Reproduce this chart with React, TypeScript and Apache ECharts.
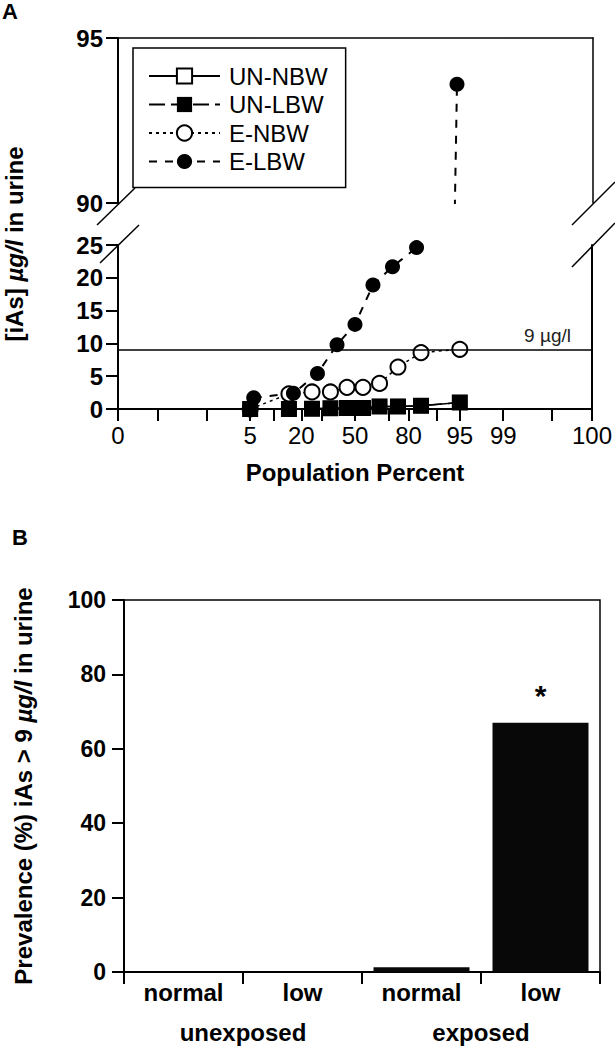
import React, { useEffect, useRef } from "react";
import * as echarts from "echarts";

// ---- data (population percent = plotting position, value = [iAs] µg/l) ----
const eLbwPercent = [5.6, 16.7, 27.8, 38.9, 50, 61.1, 72.2, 83.3, 94.4];
const eLbwValues = [1.7, 2.4, 5.4, 9.8, 12.9, 18.9, 21.7, 24.6, 93.6];
const eNbwPercent = [5, 15, 25, 35, 45, 55, 65, 75, 85, 95];
const eNbwValues = [0, 2.3, 2.6, 2.6, 3.3, 3.3, 3.9, 6.4, 8.6, 9.1];
const unPercent = [5, 15, 25, 35, 45, 55, 65, 75, 85, 95];
const unLbwValues = [0, 0, 0.05, 0.1, 0.15, 0.15, 0.4, 0.4, 0.5, 1.0];
const unNbwValues = [0, 0, 0.05, 0.1, 0.15, 0.15, 0.4, 0.4, 0.5, 1.0];
const threshold = 9;

const xTickPercents = [0.01, 0.1, 1, 5, 10, 20, 30, 50, 70, 80, 90, 95, 99, 99.9, 99.99];
const xLabelPercents = [0.01, 5, 20, 50, 80, 95, 99, 99.99];
const xLabelTexts = ["0", "5", "20", "50", "80", "95", "99", "100"];

// ---- panel B ----
const barCategories = ["normal", "low", "normal", "low"];
const groupCategories = ["unexposed", "exposed"];
const prevalence = [0, 0, 1.3, 67];
const significant = [false, false, false, true];

const FONT = "'Liberation Sans', Arial, Helvetica, sans-serif";

// inverse normal CDF (probability-scale axis transform)
function probit(p: number): number {
  const a = [-39.69683028665376, 220.9460984245205, -275.9285104469687, 138.357751867269, -30.66479806614716, 2.506628277459239];
  const b = [-54.47609879822406, 161.5858368580409, -155.6989798598866, 66.80131188771972, -13.28068155288572];
  const c = [-0.007784894002430293, -0.3223964580411365, -2.400758277161838, -2.549732539343734, 4.374664141464968, 2.938163982698783];
  const d = [0.007784695709041462, 0.3224671290700398, 2.445134137142996, 3.754408661907416];
  const pl = 0.02425;
  if (p < pl) {
    const q = Math.sqrt(-2 * Math.log(p));
    return (((((c[0] * q + c[1]) * q + c[2]) * q + c[3]) * q + c[4]) * q + c[5]) / ((((d[0] * q + d[1]) * q + d[2]) * q + d[3]) * q + 1);
  }
  if (p <= 1 - pl) {
    const q = p - 0.5;
    const r = q * q;
    return ((((((a[0] * r + a[1]) * r + a[2]) * r + a[3]) * r + a[4]) * r + a[5]) * q) / (((((b[0] * r + b[1]) * r + b[2]) * r + b[3]) * r + b[4]) * r + 1);
  }
  const q = Math.sqrt(-2 * Math.log(1 - p));
  return -(((((c[0] * q + c[1]) * q + c[2]) * q + c[3]) * q + c[4]) * q + c[5]) / ((((d[0] * q + d[1]) * q + d[2]) * q + d[3]) * q + 1);
}
const z = (percent: number) => probit(percent / 100);

const pts = (pc: number[], vals: number[]) => pc.map((p, i) => [z(p), vals[i]]);

export default function App() {
  const ref = useRef<HTMLDivElement>(null);
  useEffect(() => {
    if (!ref.current) return;
    const chart = echarts.init(ref.current, undefined, { renderer: "svg" });

    // layout
    const AL = 118, AR = 593, UT = 38, UB = 203, LT = 245, LB = 409;
    const BL = 124, BR = 600, BT = 600, BB = 972;
    const xMin = z(xTickPercents[0]);
    const xMax = z(xTickPercents[xTickPercents.length - 1]);

    const lineOnly = (gridIndex: number, position: string, min: number, max: number, w = 1.5) => ({
      type: "value",
      gridIndex,
      position,
      min,
      max,
      axisLine: { show: true, onZero: false, lineStyle: { color: "#000", width: w } },
      axisTick: { show: false },
      axisLabel: { show: false },
      splitLine: { show: false },
    });

    const seriesStyle: Record<string, any> = {
      "UN-NBW": { symbol: "emptyRect", symbolSize: 14, lineStyle: { color: "#000", width: 1.5, type: "solid" }, itemStyle: { color: "#000", borderWidth: 1.2 } },
      "UN-LBW": { symbol: "rect", symbolSize: 15, lineStyle: { color: "#000", width: 1.5, type: [16, 6] }, itemStyle: { color: "#000" } },
      "E-NBW": { symbol: "emptyCircle", symbolSize: 15, lineStyle: { color: "#000", width: 1.5, type: [3, 4] }, itemStyle: { color: "#000", borderWidth: 1.2 } },
      "E-LBW": { symbol: "circle", symbolSize: 15, lineStyle: { color: "#000", width: 2, type: [8, 8] }, itemStyle: { color: "#000" } },
    };
    const mk = (name: string, data: number[][], xi: number, yi: number, extra: any = {}) => ({
      type: "line",
      name,
      data,
      xAxisIndex: xi,
      yAxisIndex: yi,
      clip: true,
      silent: true,
      ...seriesStyle[name],
      ...extra,
    });

    const boldRich = {
      b: { fontSize: 24, fontWeight: "bold", fill: "#000", fontFamily: FONT },
      i: { fontSize: 24, fontWeight: "bold", fontStyle: "italic", fill: "#000", fontFamily: FONT },
      p: { fontSize: 22, fontWeight: "bold", fill: "#000", fontFamily: FONT },
    };

    const option: any = {
      animation: false,
      backgroundColor: "#fff",
      textStyle: { fontFamily: FONT, color: "#000" },
      grid: [
        { left: AL, top: UT, width: AR - AL, height: UB - UT },
        { left: AL, top: LT, width: AR - AL, height: LB - LT },
        { left: BL, top: BT, width: BR - BL, height: BB - BT, show: true, borderColor: "#000", borderWidth: 1.5 },
      ],
      legend: {
        data: ["UN-NBW", "UN-LBW", "E-NBW", "E-LBW"],
        orient: "vertical",
        left: 133,
        top: 48,
        selectedMode: false,
        backgroundColor: "#fff",
        borderColor: "#000",
        borderWidth: 1.5,
        borderRadius: 0,
        padding: [16, 18, 14, 15],
        itemWidth: 71,
        itemHeight: 19,
        itemGap: 4.5,
        textStyle: { fontSize: 24, color: "#000", fontFamily: FONT, lineHeight: 24, padding: [0, 0, 0, 4] },
      },
      xAxis: [
        lineOnly(0, "top", xMin, xMax),
        {
          type: "value",
          gridIndex: 1,
          position: "bottom",
          min: xMin,
          max: xMax,
          name: "Population Percent",
          nameLocation: "middle",
          nameGap: 51,
          nameTextStyle: { fontSize: 24, fontWeight: "bold", color: "#000", fontFamily: FONT },
          axisLine: { show: true, onZero: false, lineStyle: { color: "#000", width: 2 } },
          axisTick: { show: true, inside: false, length: 12, lineStyle: { color: "#000", width: 2 }, customValues: xTickPercents.map(z) },
          axisLabel: {
            show: true,
            margin: 14,
            fontSize: 24,
            color: "#000",
            fontFamily: FONT,
            customValues: xLabelPercents.map(z),
            formatter: (v: number) => {
              let best = 0;
              let bd = Infinity;
              xLabelPercents.forEach((p, i) => {
                const dd = Math.abs(z(p) - v);
                if (dd < bd) { bd = dd; best = i; }
              });
              return xLabelTexts[best];
            },
          },
          splitLine: { show: false },
        },
        {
          type: "category",
          gridIndex: 2,
          data: barCategories,
          position: "bottom",
          axisLine: { show: true, lineStyle: { color: "#000", width: 2 } },
          axisTick: { show: true, alignWithLabel: false, length: 12, lineStyle: { color: "#000", width: 2 } },
          axisLabel: { margin: 8, fontSize: 24, fontWeight: "bold", color: "#000", fontFamily: FONT },
        },
        {
          type: "category",
          gridIndex: 2,
          data: groupCategories,
          position: "bottom",
          axisLine: { show: false },
          axisTick: { show: false },
          axisLabel: { margin: 48, fontSize: 24, fontWeight: "bold", color: "#000", fontFamily: FONT },
        },
      ],
      yAxis: [
        {
          type: "value",
          gridIndex: 0,
          position: "left",
          min: 90,
          max: 95,
          interval: 5,
          axisLine: { show: true, onZero: false, lineStyle: { color: "#000", width: 2 } },
          axisTick: { show: true, length: 12, lineStyle: { color: "#000", width: 2 } },
          axisLabel: { margin: 15, fontSize: 24, fontWeight: "bold", color: "#000", fontFamily: FONT },
          splitLine: { show: false },
        },
        lineOnly(0, "right", 90, 95),
        {
          type: "value",
          gridIndex: 1,
          position: "left",
          min: 0,
          max: 25,
          interval: 5,
          axisLine: { show: true, onZero: false, lineStyle: { color: "#000", width: 2 } },
          axisTick: { show: true, length: 12, lineStyle: { color: "#000", width: 2 } },
          axisLabel: { margin: 15, fontSize: 24, fontWeight: "bold", color: "#000", fontFamily: FONT },
          splitLine: { show: false },
        },
        lineOnly(1, "right", 0, 25, 2),
        {
          type: "value",
          gridIndex: 2,
          min: 0,
          max: 100,
          interval: 20,
          name: "{b|Prevalence (%) iAs > 9 }{i|µg/l}{b| in urine}",
          nameLocation: "middle",
          nameGap: 89,
          nameTextStyle: {
            rich: {
              b: { fontSize: 24, fontWeight: "bold", color: "#000", fontFamily: FONT },
              i: { fontSize: 24, fontWeight: "bold", fontStyle: "italic", color: "#000", fontFamily: FONT },
            },
          },
          axisLine: { show: true, lineStyle: { color: "#000", width: 2 } },
          axisTick: { show: true, length: 12, lineStyle: { color: "#000", width: 2 } },
          axisLabel: { margin: 18, fontSize: 23, fontWeight: "bold", color: "#000", fontFamily: FONT },
          splitLine: { show: false },
        },
      ],
      series: [
        mk("UN-NBW", pts(unPercent, unNbwValues), 1, 2),
        mk("E-NBW", pts(eNbwPercent, eNbwValues), 1, 2, {
          markLine: {
            silent: true,
            symbol: "none",
            lineStyle: { color: "#000", width: 1.5, type: "solid" },
            label: {
              show: true,
              position: "insideEndTop",
              formatter: "9 µg/l",
              fontSize: 19,
              color: "#222",
              fontFamily: FONT,
              padding: [0, 16, 0, 0],
            },
            data: [{ yAxis: threshold }],
          },
        }),
        mk("UN-LBW", pts(unPercent, unLbwValues), 1, 2),
        mk("E-LBW", pts(eLbwPercent, eLbwValues), 1, 2),
        mk("E-LBW", pts(eLbwPercent, eLbwValues), 0, 0),
        {
          type: "bar",
          xAxisIndex: 2,
          yAxisIndex: 4,
          barWidth: 96,
          silent: true,
          itemStyle: { color: "#080808" },
          data: prevalence.map((v, i) =>
            significant[i]
              ? { value: v, label: { show: true, position: "top", formatter: "*", fontSize: 30, fontWeight: "bold", color: "#000", distance: 12 } }
              : v
          ),
        },
      ],
      graphic: [
        { type: "line", silent: true, shape: { x1: AL - 21, y1: UB + 22, x2: AL + 17, y2: UB - 15 }, style: { stroke: "#000", lineWidth: 1.5 } },
        { type: "line", silent: true, shape: { x1: AL - 18, y1: LT + 18, x2: AL + 21, y2: LT - 20 }, style: { stroke: "#000", lineWidth: 1.5 } },
        { type: "line", silent: true, shape: { x1: AR - 21, y1: UB + 22, x2: AR + 22, y2: UB - 21 }, style: { stroke: "#000", lineWidth: 1.5 } },
        { type: "line", silent: true, shape: { x1: AR - 21, y1: LT + 22, x2: AR + 22, y2: LT - 22 }, style: { stroke: "#000", lineWidth: 1.5 } },
        {
          type: "text",
          silent: true,
          x: 14,
          y: 244,
          rotation: Math.PI / 2,
          style: {
            text: "{b|[iAs] }{i|µg/l}{b| in urine}",
            textAlign: "center",
            textVerticalAlign: "middle",
            rich: boldRich,
          },
        },
        { type: "text", silent: true, x: 2, y: 11, style: { text: "{p|A}", rich: boldRich, textVerticalAlign: "middle" } },
        { type: "text", silent: true, x: 12, y: 537, style: { text: "{p|B}", rich: boldRich, textVerticalAlign: "middle" } },
      ],
    };
    chart.setOption(option);
    return () => chart.dispose();
  }, []);
  return <div ref={ref} style={{ position: "fixed", left: 0, top: 0, width: 615, height: 1047, background: "#fff" }} />;
}
